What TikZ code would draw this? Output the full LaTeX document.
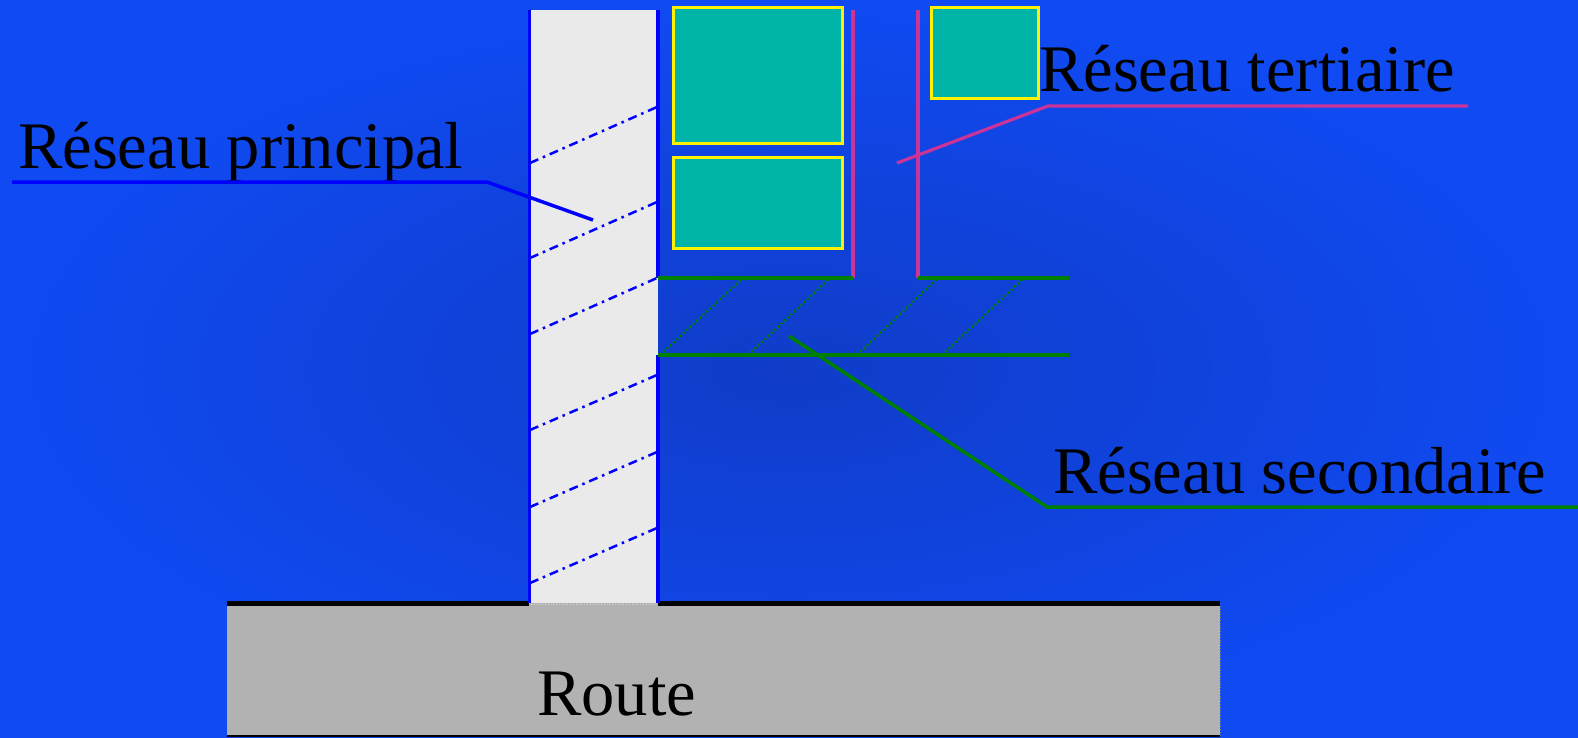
\documentclass[tikz,border=0pt]{standalone}
\usepackage{fontspec}
\setmainfont{Liberation Serif}
\usetikzlibrary{positioning}
\definecolor{bgin}{RGB}{16,60,200}
\definecolor{bgout}{RGB}{16,74,242}
\definecolor{streetgray}{RGB}{234,234,234}
\definecolor{roadgray}{RGB}{178,178,178}
\definecolor{lotfill}{RGB}{0,181,168}
\definecolor{tertmag}{RGB}{204,51,153}
\definecolor{secgreen}{RGB}{0,128,0}
\tikzstyle{every node}=[inner sep=0pt,font=\fontsize{66.5}{70}\selectfont,text=black]
\tikzstyle{label}=[anchor=base west]
\begin{document}
\begin{tikzpicture}[x=1pt,y=-1pt]
        \tikzstyle{edge}=[draw=blue,line width=3.5pt]
        \tikzstyle{hatch}=[draw=blue,line width=2.5pt,dash pattern=on 9pt off 5pt on 2.5pt off 5pt]
        \tikzstyle{lot}=[fill=lotfill,draw=yellow,line width=3pt]
        \tikzstyle{tert}=[draw=tertmag,line width=3.2pt]
        \tikzstyle{sec}=[draw=secgreen,line width=3.5pt]
        \tikzstyle{secdot}=[draw=secgreen,line width=2.2pt,dash pattern=on 2pt off 2.5pt]

        \useasboundingbox (0,0) rectangle (1578,737);
        \shade[inner color=bgin,outer color=bgout] (0,0) rectangle (1578,737);

        % Route:
        \fill[roadgray] (227,603) rectangle (1220,736);
        \draw[black,line width=5pt] (227,603.5) -- (529,603.5);
        \draw[black,line width=5pt] (658,603.5) -- (1220,603.5);
        \draw[black,line width=2pt] (227,735.5) -- (1220,735.5);
        \draw[gray,line width=0.8pt,dotted] (1220,606) -- (1220,735);

        % Main street:
        \fill[streetgray] (529,10) rectangle (658,603);
        \draw[white!70!gray,line width=0.8pt,dotted] (531,604) -- (656,604);
        \foreach \yl/\yr in {163/107,258/202,334/278,430/375,507/452,583/528}
          \draw[hatch] (530,\yl) -- (657,\yr);
        \draw[edge] (529.5,10) -- (529.5,603);
        \draw[edge] (658,10) -- (658,278);
        \draw[edge] (658,355) -- (658,603);

        % Lots:
        \draw[lot] (673,7) rectangle (842,143);
        \draw[lot] (673,157) rectangle (842,248);
        \draw[lot] (931,7) rectangle (1038,98);

        % Tertiary street:
        \draw[tert] (853,10) -- (853,278);
        \draw[tert] (918,10) -- (918,278);

        % Secondary street:
        \draw[sec] (658,278) -- (853,278);
        \draw[sec] (918,278) -- (1069,278);
        \draw[sec] (658,355) -- (1069,355);
        \foreach \xb/\xt in {660/743,748/830,857/938,942/1024}
          \draw[secdot] (\xb,355) -- (\xt,278);

        % Labels:
        \node (principal) [label] at (18,168) {Réseau principal};
        \node (tertiaire) [label] at (1039,91) {Réseau tertiaire};
        \node (secondaire) [label] at (1053,493) {Réseau secondaire};
        \node (route) [label] at (537,715) {Route};

        % Leaders:
        \coordinate (lp_a) at (12,182);
        \coordinate (lp_b) at (487,182);
        \coordinate (lp_c) at (593,220);
        \coordinate (lt_a) at (897,163);
        \coordinate (lt_b) at (1048,106);
        \coordinate (lt_c) at (1468,106);
        \coordinate (ls_a) at (789,336);
        \coordinate (ls_b) at (1047,507);
        \coordinate (ls_c) at (1578,507);
        \draw[edge] (lp_a) -- (lp_b) -- (lp_c);
        \draw[tert] (lt_a) -- (lt_b) -- (lt_c);
        \draw[sec] (ls_a) -- (ls_b) -- (ls_c);
\end{tikzpicture}
\end{document}
